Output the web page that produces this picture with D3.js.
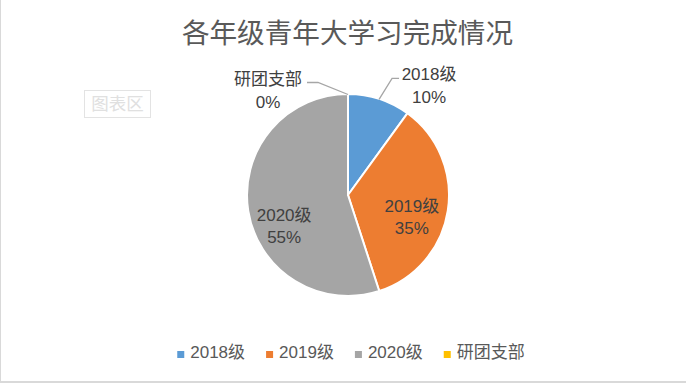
<!DOCTYPE html>
<html><head><meta charset="utf-8">
<script src="https://cdn.jsdelivr.net/npm/d3@7"></script>
<style>
html,body{margin:0;padding:0;background:#fff;overflow:hidden}
svg{display:block}
text{font-family:"Liberation Sans","Noto Sans CJK SC",sans-serif}
</style></head>
<body>
<svg id="chart" width="686" height="383"></svg>
<script>
const title = "各年级青年大学习完成情况";
const categories = ["2018级", "2019级", "2020级", "研团支部"];
const values = [10, 35, 55, 0];
const colors = ["#5B9BD5", "#ED7D31", "#A5A5A5", "#FFC000"];

const W = 686, H = 383;
const svg = d3.select("#chart");

// background and frame
svg.append("rect").attr("x", 0).attr("y", 0).attr("width", W).attr("height", H).attr("fill", "#fff");
svg.append("rect").attr("x", 0).attr("y", 0).attr("width", 1).attr("height", H).attr("fill", "#d9d9d9");
svg.append("rect").attr("x", 0).attr("y", H - 2).attr("width", W).attr("height", 2).attr("fill", "#d9d9d9");

// title
svg.append("text").attr("x", 347.5).attr("y", 42.5).attr("text-anchor", "middle")
  .attr("fill", "#595959").style("font-family", "'Noto Sans CJK SC',sans-serif")
  .style("font-size", "27.6px").text(title);

// "图表区" tooltip box
const tip = svg.append("g");
tip.append("rect").attr("x", 84.5).attr("y", 90.5).attr("width", 66).attr("height", 27)
  .attr("fill", "#fff").attr("stroke", "#e3e3e3");
tip.append("text").attr("x", 117.5).attr("y", 110).attr("text-anchor", "middle")
  .attr("fill", "#e0e0e0").style("font-family", "'Noto Sans CJK SC',sans-serif")
  .style("font-size", "17.5px").text("图表区");

// pie
const cx = 348, cy = 195, R = 101;
const data = categories.map((c, i) => ({ name: c, value: values[i], color: colors[i] }));
const total = d3.sum(values);
const pie = d3.pie().value(d => d.value).sort(null);
const arcs = pie(data);
const arc = d3.arc().innerRadius(0).outerRadius(R);
const g = svg.append("g").attr("transform", `translate(${cx},${cy})`);

g.selectAll("path.slice").data(arcs).join("path")
  .attr("class", "slice")
  .attr("d", arc)
  .attr("fill", d => d.data.color)
  .attr("stroke", "#fff").attr("stroke-width", 2).attr("stroke-linejoin", "round");

const fmt = d => Math.round(d.data.value / total * 100) + "%";
const labelColor = "#404040";
const fs = "17px";
const mid = d => (d.startAngle + d.endAngle) / 2;
const polar = (a, r) => [Math.sin(a) * r, -Math.cos(a) * r];

// inside labels for large slices
const insideArc = d3.arc().innerRadius(R * 1.28).outerRadius(0);
const insideNudge = { "2019级": 7, "2020级": 16 };
arcs.filter(d => d.data.value / total >= 0.15).forEach(d => {
  const [x, y] = insideArc.centroid(d);
  const ny = y + (insideNudge[d.data.name] || 7);
  const t = g.append("text").attr("text-anchor", "middle").attr("fill", labelColor).style("font-size", fs);
  t.append("tspan").attr("x", x).attr("y", ny).text(d.data.name);
  t.append("tspan").attr("x", x).attr("y", ny + 22).text(fmt(d));
});

// outside labels with leader lines for small slices
arcs.filter(d => d.data.value / total < 0.15).forEach(d => {
  const a = mid(d);
  const right = Math.sin(a) > 0.01;
  const start = polar(a, R - 0.5);
  const elbow = right ? [start[0] + 13, start[1] - 21] : [start[0] - 30, start[1] - 12];
  const end = right ? [elbow[0] + 7, elbow[1]] : [elbow[0] - 11, elbow[1]];
  g.append("polyline")
    .attr("points", [start, elbow, end].map(p => p.join(",")).join(" "))
    .attr("fill", "none").attr("stroke", "#a6a6a6").attr("stroke-width", 1.3);
  const t = g.append("text").attr("text-anchor", "middle").attr("fill", labelColor).style("font-size", fs);
  const tx = right ? end[0] + 30 : end[0] - 39;
  t.append("tspan").attr("x", tx).attr("y", elbow[1] + 2).text(d.data.name);
  t.append("tspan").attr("x", tx).attr("y", elbow[1] + 25).text(fmt(d));
});

// legend
const legend = svg.append("g");
let lx = 0;
data.forEach((d) => {
  const it = legend.append("g");
  it.append("rect").attr("x", 0).attr("y", -7).attr("width", 7).attr("height", 7).attr("fill", d.color);
  const tx = it.append("text").attr("x", 13).attr("y", 0).attr("fill", "#595959").style("font-size", fs).text(d.name);
  const w = 13 + tx.node().getComputedTextLength();
  it.attr("transform", `translate(${lx},0)`);
  lx += w + 21;
});
const legendW = lx - 21;
legend.attr("transform", `translate(${351 - legendW / 2},358)`);
</script>
</body></html>
